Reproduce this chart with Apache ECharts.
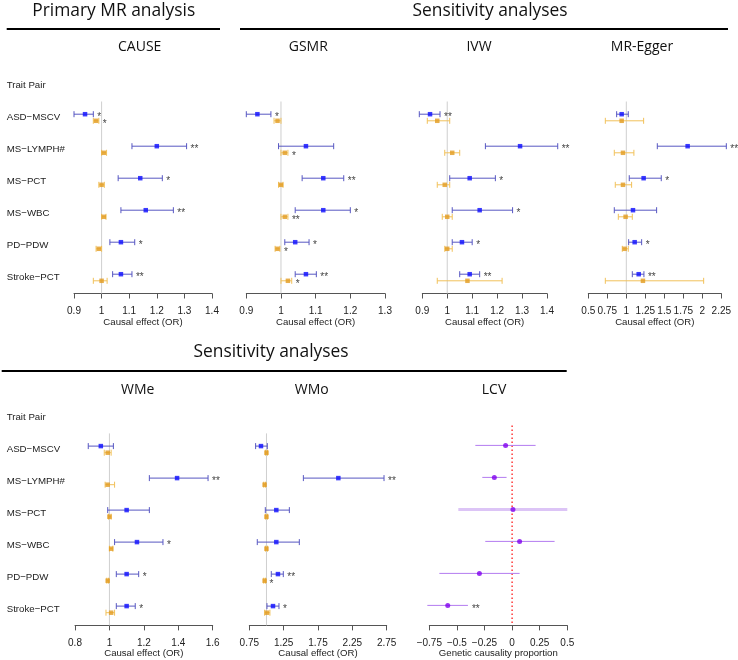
<!DOCTYPE html>
<html>
<head>
<meta charset="utf-8">
<script src="https://cdn.jsdelivr.net/npm/echarts@6/dist/echarts.min.js"></script>
<style>
  html, body { margin: 0; padding: 0; background: #fff; }
  #main { width: 738px; height: 660px; }
</style>
</head>
<body>
<div id="main"></div>
<script>
// row labels (R draws the hyphen as a minus sign)
const traitPairs = ['ASD\u2212MSCV', 'MS\u2212LYMPH#', 'MS\u2212PCT', 'MS\u2212WBC', 'PD\u2212PDW', 'Stroke\u2212PCT'];

// every row: [estimate, lower CI, upper CI]
const causeBlue = [[0.94, 0.90, 0.97], [1.20, 1.11, 1.308], [1.14, 1.06, 1.22], [1.16, 1.07, 1.26], [1.07, 1.03, 1.12], [1.07, 1.04, 1.11]];
const causeOrange = [[0.98, 0.97, 0.99], [1.008, 1.0, 1.018], [1.0, 0.99, 1.01], [1.008, 1.0, 1.016], [0.99, 0.98, 1.0], [1.0, 0.97, 1.02]];
const causeBlueStars = ['*', '**', '*', '**', '*', '**'];
const causeOrangeStars = ['*', '', '', '', '', ''];

const gsmrBlue = [[0.932, 0.90, 0.971], [1.072, 0.993, 1.152], [1.122, 1.061, 1.181], [1.122, 1.041, 1.20], [1.041, 1.011, 1.081], [1.072, 1.041, 1.102]];
const gsmrOrange = [[0.99, 0.98, 1.0], [1.011, 1.0, 1.02], [1.0, 0.993, 1.006], [1.011, 1.0, 1.02], [0.99, 0.983, 0.997], [1.02, 1.0, 1.031]];
const gsmrBlueStars = ['*', '', '**', '*', '*', '**'];
const gsmrOrangeStars = ['', '*', '', '**', '*', '*'];

const ivwBlue = [[0.931, 0.888, 0.971], [1.292, 1.153, 1.443], [1.09, 1.01, 1.193], [1.13, 1.02, 1.262], [1.059, 1.02, 1.10], [1.09, 1.05, 1.13]];
const ivwOrange = [[0.96, 0.92, 1.01], [1.02, 0.99, 1.05], [0.99, 0.96, 1.01], [1.0, 0.98, 1.02], [1.0, 0.99, 1.02], [1.081, 0.96, 1.22]];
const ivwBlueStars = ['**', '**', '*', '*', '*', '**'];

const eggerBlue = [[0.939, 0.873, 1.026], [1.807, 1.408, 2.316], [1.228, 1.039, 1.46], [1.088, 0.842, 1.399], [1.11, 1.031, 1.202], [1.163, 1.079, 1.232]];
const eggerOrange = [[0.939, 0.724, 1.228], [0.956, 0.842, 1.10], [0.956, 0.855, 1.07], [0.991, 0.895, 1.079], [0.978, 0.947, 1.026], [1.219, 0.724, 2.018]];
const eggerBlueStars = ['', '**', '*', '', '*', '**'];

const wmeBlue = [[0.95, 0.877, 1.023], [1.393, 1.232, 1.573], [1.10, 0.99, 1.232], [1.16, 1.03, 1.311], [1.10, 1.04, 1.17], [1.10, 1.04, 1.15]];
const wmeOrange = [[0.99, 0.97, 1.01], [0.99, 0.975, 1.03], [1.0, 0.995, 1.01], [1.01, 1.0, 1.02], [0.99, 0.985, 0.995], [1.01, 0.98, 1.03]];
const wmeBlueStars = ['', '**', '', '*', '*', '*'];

const wmoBlue = [[0.92, 0.842, 1.012], [2.046, 1.537, 2.711], [1.143, 0.983, 1.333], [1.143, 0.866, 1.478], [1.167, 1.07, 1.245], [1.095, 1.007, 1.182]];
const wmoOrange = [[1.0, 0.985, 1.015], [0.973, 0.96, 0.985], [1.0, 0.985, 1.015], [1.0, 0.985, 1.015], [0.973, 0.96, 0.985], [1.007, 0.973, 1.05]];
const wmoBlueStars = ['', '**', '', '', '**', '*'];
const wmoOrangeStars = ['', '', '', '', '*', ''];

const lcvEst = [-0.059, -0.161, 0.008, 0.068, -0.296, -0.583];
const lcvLow = [-0.333, -0.27, -0.487, -0.243, -0.659, -0.768];
const lcvHigh = [0.213, -0.05, 0.5, 0.385, 0.068, -0.4];
const lcvStars = ['', '', '', '', '', '**'];

// axis ranges [min, max, interval]
const causeTicks = [0.9, 1.4, 0.1];
const gsmrTicks = [0.9, 1.3, 0.1];
const ivwTicks = [0.9, 1.4, 0.1];
const eggerTicks = [0.5, 2.25, 0.25];
const wmeTicks = [0.8, 1.6, 0.2];
const wmoTicks = [0.75, 2.75, 0.5];
const lcvTicks = [-0.75, 0.5, 0.25];

const BLUE_PT = '#0b0bff', BLUE_LN = '#5757c2';
const ORANGE_PT = '#e29b1f', ORANGE_LN = '#f1c15a';
const LCV_PT = '#7f00ee', LCV_LN = '#b37cf0', LCV_WIDE = '#dcc4f6';
const LABEL_FONT = 'Liberation Sans, Arial, sans-serif';
const TITLE_FONT = 'Open Sans, sans-serif';

const panels = [
  { title: 'CAUSE', ticks: causeTicks, blue: causeBlue, orange: causeOrange, bs: causeBlueStars, os: causeOrangeStars, left: 74, top: 69.5, width: 138, tx: 139.7, ty: 47, labels: true, xName: 'Causal effect (OR)' },
  { title: 'GSMR', ticks: gsmrTicks, blue: gsmrBlue, orange: gsmrOrange, bs: gsmrBlueStars, os: gsmrOrangeStars, left: 246.3, top: 69.5, width: 138.7, tx: 308.3, ty: 47, xName: 'Causal effect (OR)' },
  { title: 'IVW', ticks: ivwTicks, blue: ivwBlue, orange: ivwOrange, bs: ivwBlueStars, left: 422.3, top: 69.5, width: 124.7, tx: 479, ty: 47, xName: 'Causal effect (OR)' },
  { title: 'MR-Egger', ticks: eggerTicks, blue: eggerBlue, orange: eggerOrange, bs: eggerBlueStars, left: 588.3, top: 69.5, width: 133, tx: 642, ty: 47, xName: 'Causal effect (OR)' },
  { title: 'WMe', ticks: wmeTicks, blue: wmeBlue, orange: wmeOrange, bs: wmeBlueStars, left: 75, top: 401.4, width: 137.7, tx: 137.7, ty: 390, labels: true, xName: 'Causal effect (OR)' },
  { title: 'WMo', ticks: wmoTicks, blue: wmoBlue, orange: wmoOrange, bs: wmoBlueStars, os: wmoOrangeStars, left: 249.3, top: 401.4, width: 137.4, tx: 311.7, ty: 390, xName: 'Causal effect (OR)' },
  { title: 'LCV', ticks: lcvTicks, lcv: true, left: 429.3, top: 401.4, width: 138, tx: 494, ty: 390, xName: 'Genetic causality proportion' }
];

const BAND = 32;

function fmt(v) {
  return String(+v.toFixed(2)).replace('-', '\u2212');
}

// error bars + significance stars
function barSeries(idx, rows, stars, dy, color, caps, maxX) {
  return {
    type: 'custom',
    xAxisIndex: idx,
    yAxisIndex: idx,
    data: rows.map((r, i) => [r[1], r[2], i + 1]),
    encode: { x: [0, 1], y: 2 },
    clip: false,
    silent: true,
    z: 2,
    renderItem: function (params, api) {
      const a = api.coord([api.value(0), api.value(2)]);
      const b = api.coord([api.value(1), api.value(2)]);
      const y = a[1] + dy;
      const wide = !caps && api.value(1) >= maxX;
      const children = [{
        type: 'line',
        shape: { x1: a[0], y1: y, x2: b[0], y2: y },
        style: { stroke: wide ? LCV_WIDE : color, lineWidth: wide ? 3 : 1 }
      }];
      if (caps) {
        children.push({ type: 'line', shape: { x1: a[0], y1: y - 3, x2: a[0], y2: y + 3 }, style: { stroke: color, lineWidth: 1 } });
        children.push({ type: 'line', shape: { x1: b[0], y1: y - 3, x2: b[0], y2: y + 3 }, style: { stroke: color, lineWidth: 1 } });
      }
      const s = stars && stars[params.dataIndex];
      if (s) {
        children.push({
          type: 'text', x: b[0] + 4, y: y + 3.5,
          style: { text: s, fill: '#444', fontSize: 10, fontFamily: LABEL_FONT, verticalAlign: 'middle', align: 'left' }
        });
      }
      return { type: 'group', children: children };
    }
  };
}

function pointSeries(idx, values, dy, color, symbol, size) {
  return {
    type: 'scatter',
    xAxisIndex: idx,
    yAxisIndex: idx,
    data: values.map((v, i) => [v, i + 1]),
    symbol: symbol,
    symbolSize: size,
    symbolOffset: [0, dy],
    itemStyle: { color: color },
    clip: false,
    silent: true,
    z: 3
  };
}

// vertical reference line (null effect)
function refSeries(idx, value, color, dashed) {
  return {
    type: 'custom',
    xAxisIndex: idx,
    yAxisIndex: idx,
    data: [[value, 1]],
    encode: { x: 0, y: 1 },
    clip: false,
    silent: true,
    z: 1,
    renderItem: function (params, api) {
      const p1 = api.coord([value, 1]);
      const p6 = api.coord([value, 6]);
      const band = api.coord([value, 2])[1] - p1[1];
      const top = p1[1] - band * (dashed ? 0.75 : 0.5);
      const bottom = p6[1] + band * 0.5;
      return {
        type: 'line',
        shape: { x1: p1[0], y1: top, x2: p1[0], y2: bottom },
        style: dashed ? { stroke: color, lineWidth: 1.3, lineDash: [1.5, 2.5] } : { stroke: color, lineWidth: 1 }
      };
    }
  };
}

const grids = [], xAxes = [], yAxes = [], series = [], graphics = [];

panels.forEach((p, i) => {
  grids.push({ left: p.left, top: p.top, width: p.width, height: BAND * 7, containLabel: false, outerBoundsMode: 'none' });
  xAxes.push({
    type: 'value', gridIndex: i,
    min: p.ticks[0], max: p.ticks[1], interval: p.ticks[2],
    axisLine: { show: true, onZero: false, lineStyle: { color: '#555', width: 1 } },
    axisTick: { show: true, length: 5, lineStyle: { color: '#555', width: 1 } },
    axisLabel: { margin: 12.5, fontSize: 10, color: '#222', fontFamily: LABEL_FONT, formatter: fmt, showMinLabel: true, showMaxLabel: true, hideOverlap: false },
    splitLine: { show: false },
    name: p.xName, nameLocation: 'middle', nameGap: 23,
    nameTextStyle: { fontSize: 9.6, color: '#222', fontFamily: LABEL_FONT }
  });
  yAxes.push({
    type: 'category', gridIndex: i, inverse: true,
    data: ['Trait Pair'].concat(traitPairs),
    axisLine: { show: false }, axisTick: { show: false }, splitLine: { show: false },
    axisLabel: { show: !!p.labels, align: 'left', margin: p.left - 6.7, fontSize: 9.7, color: '#222', fontFamily: LABEL_FONT }
  });
  graphics.push({
    type: 'text', x: p.tx, y: p.ty,
    style: { text: p.title, fontSize: 14, fontFamily: TITLE_FONT, fill: '#111', align: 'center', verticalAlign: 'middle' }
  });

  if (p.lcv) {
    series.push(refSeries(i, 0, '#ff1a1a', true));
    series.push(barSeries(i, lcvEst.map((v, k) => [v, lcvLow[k], lcvHigh[k]]), lcvStars, -4, LCV_LN, false, p.ticks[1]));
    series.push(pointSeries(i, lcvEst, -4, LCV_PT, 'circle', 5));
  } else {
    series.push(refSeries(i, 1, '#cfcfcf', false));
    series.push(barSeries(i, p.orange, p.os, 3.3, ORANGE_LN, true));
    series.push(barSeries(i, p.blue, p.bs, -3.3, BLUE_LN, true));
    series.push(pointSeries(i, p.orange.map(r => r[0]), 3.3, ORANGE_PT, 'rect', 4.5));
    series.push(pointSeries(i, p.blue.map(r => r[0]), -3.3, BLUE_PT, 'rect', 4.5));
  }
});

// section headings and the rules under them
const headings = [
  { text: 'Primary MR analysis', x: 113.7, y: 11 },
  { text: 'Sensitivity analyses', x: 490, y: 11 },
  { text: 'Sensitivity analyses', x: 271, y: 352.5 }
];
headings.forEach(h => graphics.push({
  type: 'text', x: h.x, y: h.y,
  style: { text: h.text, fontSize: 17.4, fontFamily: TITLE_FONT, fill: '#111', align: 'center', verticalAlign: 'middle' }
}));
const rules = [[6.7, 220, 29], [240, 728, 29], [1.7, 566.7, 371]];
rules.forEach(r => graphics.push({
  type: 'line', shape: { x1: r[0], y1: r[2], x2: r[1], y2: r[2] },
  style: { stroke: '#000', lineWidth: 2 }
}));

const chart = echarts.init(document.getElementById('main'), null, { renderer: 'canvas' });
chart.setOption({
  animation: false,
  backgroundColor: '#fff',
  textStyle: { fontFamily: LABEL_FONT },
  grid: grids,
  xAxis: xAxes,
  yAxis: yAxes,
  series: series,
  graphic: graphics
});
</script>
</body>
</html>
